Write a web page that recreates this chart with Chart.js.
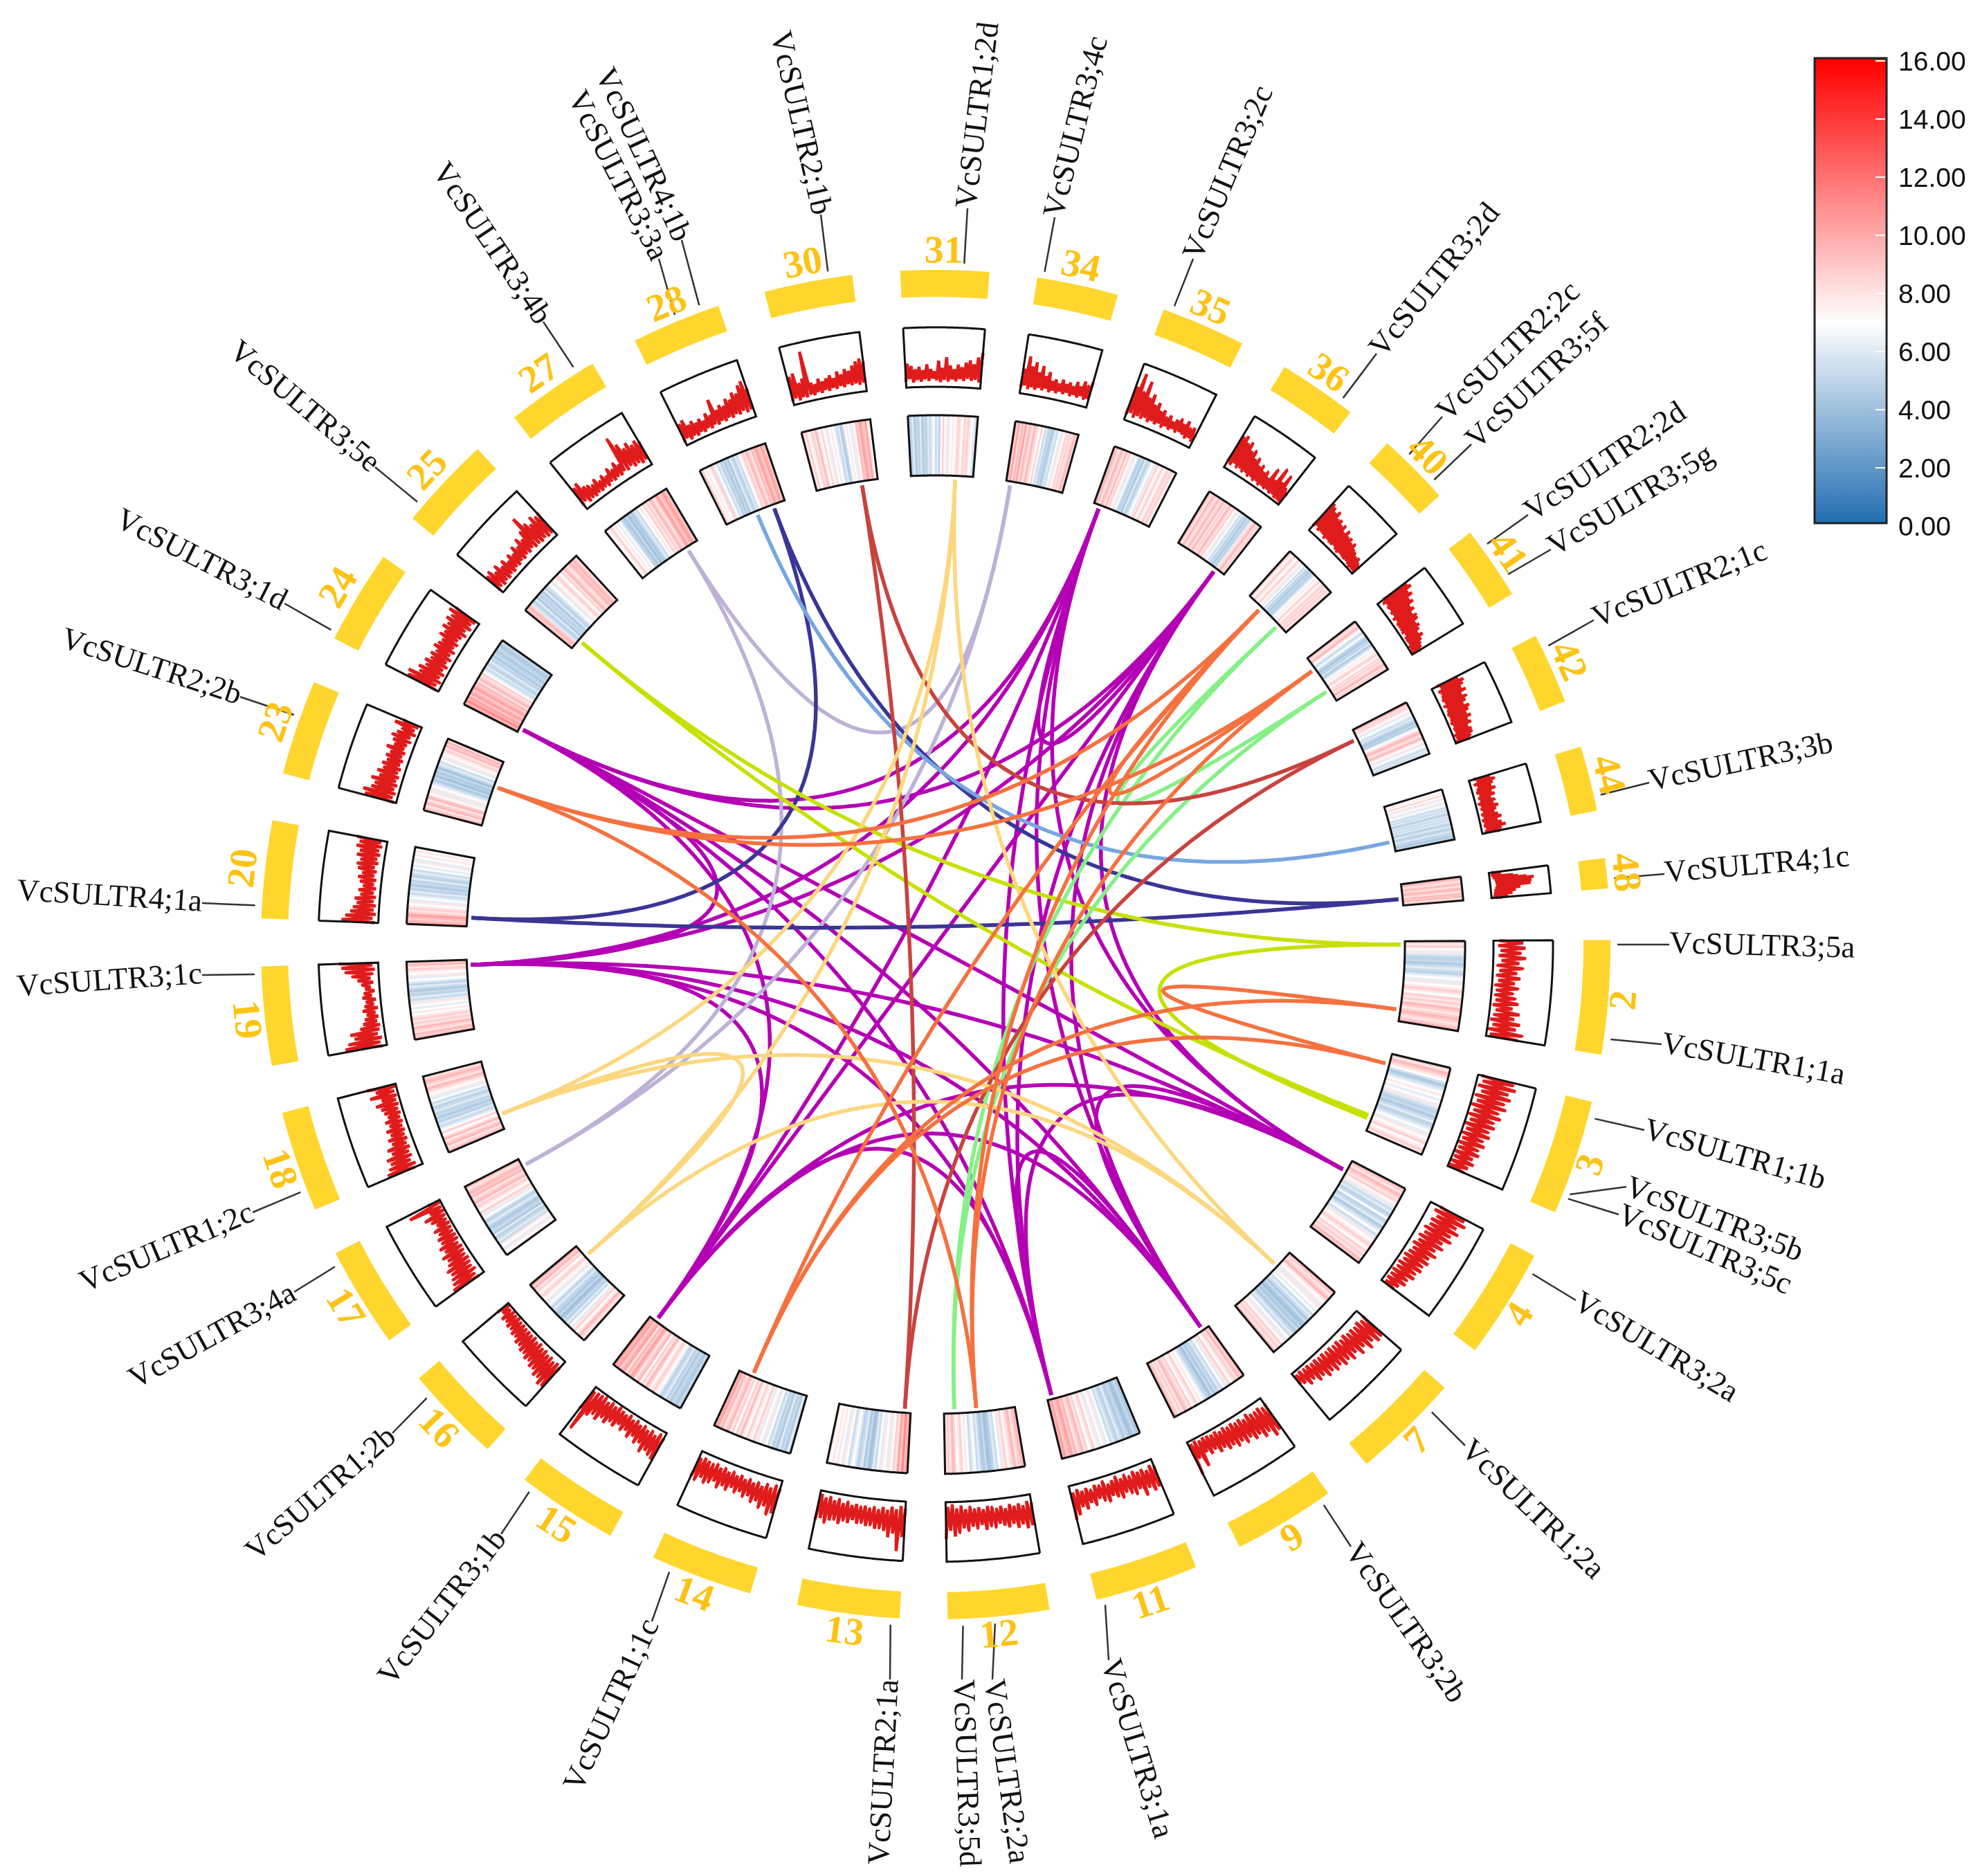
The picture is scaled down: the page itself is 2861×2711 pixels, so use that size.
<!DOCTYPE html>
<html lang="en">
<head>
<meta charset="UTF-8">
<title>VcSULTR collinearity</title>
<style>
    html, body { margin: 0; padding: 0; background: #fff; }
    canvas { display: block; }
</style>
</head>
<body>
<canvas id="myChart" width="2861" height="2711"></canvas>
<script src="https://cdn.jsdelivr.net/npm/chart.js@4/dist/chart.umd.min.js"></script>
<script>
// chromosomes, clockwise, and their length in degrees
var chromosomes = [2,3,4,7,9,11,12,13,14,15,16,17,18,19,20,23,24,25,27,28,30,31,34,35,36,40,41,42,44,48];
var chrLengths = [9.8,9.9,9.5,9.3,8.8,8.9,8.7,8.8,8.8,8.7,8.4,8.7,8.7,8.5,8.4,8.2,8.1,8.1,8.1,7.7,7.6,7.6,7.0,7.3,6.8,6.3,6.3,6.1,5.6,2.6];

// genes and where they sit on the circle (degrees clockwise from north)
var geneNames = ['3;5a','1;1a','1;1b','3;5b','3;5c','3;2a','1;2a','3;2b','3;1a','2;2a','3;5d','2;1a','1;1c','3;1b','1;2b','3;4a','1;2c','3;1c','4;1a','2;2b','3;1d','3;5e','3;4b','3;3a','4;1b','2;1b','1;2d','3;4c','3;2c','3;2d','2;2c','3;5f','2;2d','3;5g','2;1c','3;3b','4;1c'];
var geneAngles = [90,98,104.8,111.5,111.9,118.9,133.3,145.3,165.6,175,177.7,183.8,203,216.6,228.3,241.8,248.7,267.5,273.3,289.7,297.5,310.5,327.9,337.5,339.7,350.9,2.4,9.2,20.5,36.7,44,47,54,57.1,64,77.3,84.4];

// synteny links per family
var magentaLinks = [['3;1a','3;1b'],['3;1a','3;1c'],['3;1a','3;1d'],['3;1a','3;2a'],['3;1a','3;2b'],['3;1a','3;2c'],['3;1a','3;2d'],['3;1b','3;1c'],['3;1b','3;1d'],['3;1b','3;2a'],['3;1b','3;2b'],['3;1b','3;2c'],['3;1b','3;2d'],['3;1c','3;1d'],['3;1c','3;2a'],['3;1c','3;2b'],['3;1c','3;2c'],['3;1c','3;2d'],['3;1d','3;2a'],['3;1d','3;2b'],['3;1d','3;2c'],['3;1d','3;2d'],['3;2a','3;2b'],['3;2a','3;2c'],['3;2a','3;2d'],['3;2b','3;2c'],['3;2b','3;2d'],['3;2c','3;2d']];
var lavenderLinks = [['3;4a','3;4b'],['3;4a','3;4c'],['3;4b','3;4c']];
var navyLinks = [['4;1a','4;1b'],['4;1a','4;1c'],['4;1b','4;1c']];
var blueLinks = [['3;3a','3;3b']];
var limeLinks = [['3;5a','3;5c'],['3;5a','3;5e'],['3;5b','3;5e']];
var greenLinks = [['3;5d','3;5f'],['3;5d','3;5g'],['3;5f','3;5g']];
var brownLinks = [['2;1a','2;1b'],['2;1a','2;1c'],['2;1b','2;1c']];
var sandLinks = [['1;2a','1;2b'],['1;2a','1;2c'],['1;2a','1;2d'],['1;2b','1;2c'],['1;2b','1;2d'],['1;2c','1;2d']];
var orangeLinks = [['1;1a','1;1b'],['1;1a','1;1c'],['1;1b','1;1c'],['2;2a','2;2b'],['2;2a','2;2c'],['2;2a','2;2d'],['2;2b','2;2c'],['2;2b','2;2d'],['2;2c','2;2d'],['1;1c','2;2c']];

// red line track, percent of the track height, one row per chromosome
var lineValues = [
[10,50,8,54,12,47,9,55,14,44,7,50,11,41,6,47,10,38,5,44,9,36,6,41,8,47,4,38,10,51,7,43,3,54,8,48,2,60,6,55],
[6,62,10,68,4,58,12,64,5,55,9,61,3,50,8,57,4,47,7,52,2,44,6,49,3,40,5,46,2,38,4,43,1,35,3,40,1,33,2,30],
[18,66,12,72,20,60,14,68,16,58,11,63,15,52,10,57,13,48,8,54,12,46,9,50,7,43,10,47,6,40,8,44,5,35,7,38,4,30,6,26],
[14,58,18,62,12,54,16,60,13,50,15,56,10,47,14,52,9,45,12,49,8,42,11,46,7,40,10,44,6,36,9,39,5,30,7,34,4,27,6,24],
[12,62,16,68,10,55,14,60,12,50,9,54,13,46,8,50,11,44,7,47,10,42,6,45,9,38,5,42,7,33,5,37,4,30,6,52,3,34,5,60],
[12,48,8,52,14,44,9,55,11,40,7,46,13,42,8,38,12,45,6,41,10,36,14,44,7,39,12,34,9,42,15,37,10,46,13,40,8,52,12,58],
[14,52,10,56,16,48,12,53,15,45,11,50,17,46,12,42,16,47,13,44,10,50,15,41,11,46,14,43,9,49,13,45,7,52,11,58,4,48,8,62],
[12,60,8,84,14,55,10,62,16,52,12,48,18,50,14,44,17,47,13,42,16,45,12,40,15,46,11,43,14,50,9,44,12,47,7,52,10,46,5,50],
[14,58,10,62,16,50,12,55,18,46,14,50,17,42,13,46,16,40,12,44,15,38,11,45,14,41,10,47,13,39,9,44,12,48,10,42,8,50,11,46],
[10,52,7,48,12,44,8,50,11,38,7,42,10,34,6,40,9,32,5,36,8,30,6,38,4,33,7,42,5,36,8,46,4,40,6,48,5,80,7,45],
[14,56,10,60,15,50,11,54,13,45,9,48,11,40,7,44,10,37,6,40,8,33,5,36,7,28,4,31,6,25,3,28,5,22,3,26,4,18,2,24],
[10,58,14,54,8,50,12,46,9,50,6,42,10,38,7,44,5,36,9,40,6,32,4,36,7,28,5,33,3,25,6,30,4,38,2,26,3,60,2,22],
[14,62,10,56,16,50,11,54,13,42,9,47,12,36,8,40,10,33,7,38,9,30,6,35,8,28,5,32,7,35,4,42,6,30,3,48,5,36,2,50],
[8,70,10,62,6,52,12,58,8,40,6,34,10,30,7,26,11,32,6,28,12,25,8,30,14,27,9,24,15,30,10,36,14,44,9,55,6,62,10,66],
[6,62,10,56,5,48,9,44,6,38,10,42,7,33,11,37,8,30,12,36,9,40,13,34,10,42,14,45,9,40,12,47,8,43,11,50,7,46,10,52],
[4,55,8,60,5,48,9,44,6,52,10,40,7,46,11,38,8,42,12,36,9,40,13,35,10,44,14,33,12,38,8,42,11,36,6,30,9,46,5,34],
[4,58,8,62,5,44,9,50,6,40,10,46,7,38,11,43,8,36,12,45,9,40,13,38,10,46,14,42,11,50,8,44,12,52,7,46,10,56,6,48],
[6,36,10,40,5,32,9,38,6,30,10,35,7,28,11,34,8,30,12,38,9,33,13,42,10,36,14,46,9,70,12,50,8,44,11,52,7,46,10,50],
[8,42,12,46,6,34,10,30,7,26,11,32,8,24,12,30,9,26,13,34,10,28,14,36,11,30,15,75,12,60,16,48,11,54,13,46,9,50,12,44],
[6,38,10,42,5,30,9,34,6,28,10,32,7,26,11,36,8,30,12,55,9,34,13,40,10,36,14,46,11,42,15,52,12,48,16,60,11,65,14,50],
[6,48,10,52,5,34,9,40,7,85,10,30,8,26,12,34,9,28,13,32,10,36,14,30,11,40,15,34,12,42,16,38,13,46,15,52,12,56,15,50],
[10,40,14,36,8,30,12,34,9,28,13,38,10,30,14,26,11,44,8,32,12,50,9,36,13,30,10,38,14,34,11,42,15,46,12,40,14,52,10,60],
[10,42,14,64,9,48,13,56,10,40,14,52,11,36,15,44,10,30,14,34,11,28,15,36,12,30,16,34,13,28,15,38,12,32,16,42,13,36,14,44],
[10,60,14,85,10,55,13,76,11,50,15,58,10,42,14,48,11,36,15,40,12,30,15,36,12,28,16,34,13,38,16,32,14,40,12,30,14,34,10,24],
[12,62,8,66,14,56,10,60,12,48,9,52,11,40,8,44,10,34,7,38,9,30,6,34,8,26,6,46,8,30,5,55,7,34,4,50,6,28,3,24],
[10,62,14,58,9,52,12,56,10,46,8,50,11,42,9,46,7,38,10,44,8,36,6,40,9,32,7,36,5,30,8,26,6,22,4,26,5,18,3,16],
[12,60,8,64,12,54,9,58,11,48,8,52,10,42,7,46,9,38,6,42,8,40,7,34,5,38,8,32,6,28,4,34,5,26,3,22,4,20,2,16],
[10,48,14,56,8,50,12,46,9,52,7,42,10,48,6,44,9,38,7,46,5,40,8,36,6,42,4,34,7,38,5,30,6,34,3,32,5,28,2,26],
[8,36,12,42,7,38,11,34,8,40,6,32,10,36,7,28,9,34,5,30,8,37,6,32,9,28,5,33,8,38,4,30,7,36,5,42,8,34,5,30],
[4,14,6,20,3,16,8,40,5,48,10,62,8,74,12,60,9,70,14,55,10,68,12,45,8,50,10,36,6,42,8,30,5,36,6,24,4,28,3,18]
];

// heat map track, expression value 0-16, one row per chromosome
var heatValues = [
[9,8,9,7,8,6,5,4.5,5,4,5,6,5,4.5,6,7,6,8,7,8,9,8,7,9,8,9,8,10,9,8,9,10,9,8,9,10],
[9,8,10,9,8,7,5,4,5,6,7,8,7,6,7,8,6,5,4.5,5,4,5,6,4.5,5,6,7,6,8,7,8,9,7,8,9,8],
[10,9,8,10,9,8,9,7,8,6,5,6,4.5,5,7,4.5,5,6,4,5,6,7,5,6,8,7,8,9,8,7,9,8,9,8,10,9],
[10,9,8,9,10,8,7,8,6,8,7,6,7,5,6,5,4,5,4,3.5,4.5,4,5,4,5,6,5,7,6,8,7,9,8,9,8,10],
[10,9,10,8,9,8,7,9,8,6,7,5,6,4.5,5,4,5,3.5,4.5,5,6,7,8,7,9,8,7,9,8,9,10,8,9,8,9,10],
[4.5,4,5,4,3.5,4.5,5,4,5,6,4.5,5,6,5,7,6,8,7,6,8,7,9,8,7,9,8,10,9,8,10,9,11,10,9,11,10],
[9,10,9,8,10,9,8,7,9,8,6,7,5,6,4.5,4,3.5,5,4,4.5,6,5,7,6,5,7,8,7,9,8,7,9,10,8,9,8],
[11,10,12,9,11,8,9,7,8,6,7,8,6,7,5,6,4,3.5,5,4,6,5,4.5,6,7,6,5,7,8,6,7,8,7,8,7,8],
[5,6,4,5,4.5,6,4,5,4.5,6,5,7,6,8,7,6,8,9,7,8,9,7,8,10,8,9,7,9,8,10,9,8,10,9,11,10],
[4.5,5,4,4.5,5,4,5,4.5,6,5,4.5,6,7,8,9,8,7,9,10,8,9,7,10,9,8,10,11,9,10,8,11,10,9,11,10,11],
[9,8,9,10,8,7,9,8,6,7,5,6,4.5,5,4,3.5,5,4,4.5,5,6,4.5,6,7,6,8,7,8,9,8,7,9,8,10,9,10],
[8,7,8,6,7,8,5,6,5,4.5,6,4,5,4.5,4,5,6,4.5,5,7,6,8,9,7,8,9,8,10,9,8,10,9,10,9,8,10],
[10,9,8,10,9,8,10,8,7,9,7,6,5,6,4.5,5,4,5,4.5,6,5,4.5,6,5,7,6,8,7,8,9,10,8,9,10,9,8],
[10,9,10,8,9,10,8,9,8,9,8,7,8,7,6,7,8,6,5,6,4.5,5,4,5,6,4.5,6,7,6,8,7,8,9,8,10,9],
[11,10,9,10,11,9,8,9,8,7,8,6,7,6,5,6,4.5,5,4,5,4.5,6,4.5,5,6,5,7,6,7,8,6,7,8,7,8,7],
[10,9,8,10,9,8,10,9,7,8,6,8,7,6,5,4,5,3.5,4.5,4,5,3.5,5,6,5,7,6,8,7,8,9,8,10,9,10,8],
[11,10,12,10,11,9,11,10,9,11,10,9,10,8,10,9,8,9,7,6,5,6,4.5,5,6,4.5,5,4,5,4.5,4,5,4.5,4,4.5,5],
[10,9,10,9,6,5,4.5,6,4,5,4.5,5,4,6,4.5,5,6,7,6,8,7,8,9,8,7,9,8,10,9,8,9,10,9,10,9,8],
[8,7,8,9,7,8,7,6,7,5,4.5,4,5,3.5,4.5,4,5,6,5,7,8,7,9,8,9,8,10,9,8,10,11,9,10,11,10,9],
[8,9,7,8,7,8,9,6,7,5,6,4.5,5,4,5,4,6,5,4.5,6,5,7,8,9,8,10,9,8,10,9,11,10,9,11,10,9],
[9,8,9,7,8,9,8,10,8,7,9,7,8,6,7,8,7,6,5,6,4,5,7,8,7,6,8,7,10,9,11,10,9,11,8,7],
[5,4.5,6,4,5,4.5,6,4,5,4.5,6,5,6,7,5,6,4.5,7,9,7,8,6,7,8,7,8,9,8,7,9,8,9,8,7,6,5],
[10,9,11,8,10,9,11,8,10,9,8,10,9,8,7,9,7,5,6,4.5,5,4,5,6,5,7,6,8,7,9,8,9,8,9,10,8],
[8,10,9,8,10,9,8,10,8,9,7,8,6,7,5,4.5,5,4,6,4.5,5,6,7,6,8,9,7,8,9,7,8,9,8,9,8,7],
[10,9,8,10,9,8,9,10,8,9,10,8,9,8,10,9,8,9,7,8,6,7,5,6,4.5,5,4,5,4.5,6,8,9,10,8,9,8],
[8,9,7,8,9,8,7,8,9,7,8,6,7,5,6,4.5,5,4,5,4.5,5,6,7,8,7,8,9,7,8,9,8,9,8,9,8,9],
[10,9,8,9,10,8,7,6,5,6,7,5,4.5,4,5,4.5,6,4,5,6,7,8,7,8,9,8,7,9,8,9,8,9,10,8,9,8],
[9,10,8,9,8,7,8,6,7,6,5,6,5,4.5,4,5,4,6,7,8,9,10,9,8,9,10,8,7,8,6,7,6,5,6,5,7],
[8,7,8,7,9,7,8,6,7,8,6,7,6,5,6,5,6,5,4.5,6,5,6,5,6,5,4.5,6,5,4.5,5,6,4.5,5,4,4.5,5],
[9,10,9,8,9,10,8,9,10,9,8,10,9,10,8,9]
];

var legendTicks = [0,2,4,6,8,10,12,14,16];

// layout, in reference pixels
var cx = 1352, cy = 1365;
var firstStart = 89.6, chrGap = 4.08;
var yellowR = [936, 975], lineR = [806, 892], heatR = [678, 765], linkR = 672, tickR = 985, numberR = 1002;
var legendBox = {left: 2622, right: 2726, top: 84, bottom: 756, zero: 760, perUnit: 42};

// where each gene label is hung: x, y, rotation, align (same order as geneNames)
var labelPlaces = [
[2412,1365,1.5,'left'],[2401,1509,10,'left'],[2376,1633,16,'left'],[2350,1715,21,'left'],[2339,1755,23,'left'],[2277,1879,31,'left'],[2117,2089,44,'left'],[1952,2235,55,'left'],[1602,2399,73,'left'],[1434,2427,82,'left'],[1390,2427,88,'left'],
[1286,2427,-87,'right'],[942,2343,-65,'right'],[724,2217,-52,'right'],[567,2071,-41,'right'],[425,1867,-29,'right'],[365,1752,-23,'right'],[292,1409,-4,'right'],[292,1305,3.5,'right'],[347,1007,18,'right'],[411,872,27,'right'],[542,675,40,'right'],[785,465,56,'right'],[952,374,63,'right'],[985,347,65,'right'],[1186,310,77,'right'],
[1398,301,-83,'left'],[1524,314,-76,'left'],[1724,374,-67,'left'],[1989,511,-51,'left'],[2084,602,-44,'left'],[2126,642,-43,'left'],[2208,744,-34,'left'],[2241,794,-31,'left'],[2303,896,-22,'left'],[2383,1131,-12,'left'],[2405,1263,-5,'left']
];

var linkFamilies = [
    {links: magentaLinks, color: '#B400B4'},
    {links: lavenderLinks, color: '#BDB2D6'},
    {links: navyLinks, color: '#3A3596'},
    {links: blueLinks, color: '#78A6E2'},
    {links: limeLinks, color: '#C6E000'},
    {links: greenLinks, color: '#86F086'},
    {links: brownLinks, color: '#C8433F'},
    {links: sandLinks, color: '#FCD77F'},
    {links: orangeLinks, color: '#F5713F'}
];

function polar(angle, r) {
    var a = angle * Math.PI / 180;
    return {x: cx + r * Math.sin(a), y: cy - r * Math.cos(a)};
}

function arc(a0, a1, r) {
    var pts = [];
    for (var i = 0; i <= 24; i++) {
        pts.push(polar(a0 + (a1 - a0) * i / 24, r));
    }
    return pts;
}

function heatRgb(v) {
    var r, g, b, t;
    if (v <= 7) {
        t = v / 7;
        r = 31 + (255 - 31) * t; g = 108 + (255 - 108) * t; b = 176 + (255 - 176) * t;
    } else {
        t = (v - 7) / 9;
        r = 255; g = 255 * (1 - t); b = 255 * (1 - t);
    }
    return Math.round(r) + ',' + Math.round(g) + ',' + Math.round(b);
}

var chrStart = [];
var pos = firstStart;
for (var i = 0; i < chromosomes.length; i++) {
    chrStart.push(pos);
    pos += chrLengths[i] + chrGap;
}

var datasets = [];
function addLine(data, color, width, join) {
    datasets.push({
        data: data,
        showLine: true,
        pointRadius: 0,
        fill: false,
        tension: 0.0001,   // tension 0 takes chart.js's fast path, which collapses near-vertical runs
        borderColor: color,
        borderWidth: width,
        borderCapStyle: 'butt',
        borderJoinStyle: join || 'round'
    });
}

// links first so the tracks sit on top
linkFamilies.forEach(function (family) {
    family.links.forEach(function (pair) {
        var p0 = polar(geneAngles[geneNames.indexOf(pair[0])], linkR);
        var p1 = polar(geneAngles[geneNames.indexOf(pair[1])], linkR);
        var pts = [];
        for (var k = 0; k <= 60; k++) {
            var t = k / 60;
            pts.push({
                x: (1 - t) * (1 - t) * p0.x + 2 * t * (1 - t) * cx + t * t * p1.x,
                y: (1 - t) * (1 - t) * p0.y + 2 * t * (1 - t) * cy + t * t * p1.y
            });
        }
        addLine(pts, family.color, 5.5);
    });
});

chromosomes.forEach(function (chr, c) {
    var a0 = chrStart[c], a1 = a0 + chrLengths[c];

    addLine(arc(a0, a1, (yellowR[0] + yellowR[1]) / 2), '#FFD62E', yellowR[1] - yellowR[0]);

    // heat cells
    var cells = heatValues[c];
    var rMid = (heatR[0] + heatR[1]) / 2;
    var cellWidth = rMid * (a1 - a0) * Math.PI / 180 / cells.length + 1.2;
    cells.forEach(function (v, j) {
        var a = a0 + (a1 - a0) * (j + 0.5) / cells.length;
        addLine([polar(a, heatR[0]), polar(a, heatR[1])], 'rgba(' + heatRgb(v) + ',0.8)', cellWidth);
    });
    addLine(arc(a0, a1, heatR[1]).concat(arc(a1, a0, heatR[0]), [polar(a0, heatR[1])]), '#111', 3, 'miter');

    // red line track
    var vals = lineValues[c];
    var trace = vals.map(function (v, j) {
        var a = a0 + (a1 - a0) * j / (vals.length - 1);
        return polar(a, lineR[0] + (lineR[1] - lineR[0]) * v / 100);
    });
    addLine(trace, '#E01B1B', 4.5, 'bevel');
    addLine(arc(a0, a1, lineR[1]).concat(arc(a1, a0, lineR[0]), [polar(a0, lineR[1])]), '#111', 3, 'miter');
});

// gene ticks
geneNames.forEach(function (g, i) {
    var p = labelPlaces[i];
    addLine([polar(geneAngles[i], tickR), {x: p[0], y: p[1]}], '#333', 2.5);
});

// the plugin draws what the scales can't: gene names, chromosome numbers, color bar
var circosText = {
    id: 'circosText',
    afterDatasetsDraw: function (chart) {
        var ctx = chart.ctx, sx = chart.scales.x, sy = chart.scales.y;
        var X = function (v) { return sx.getPixelForValue(v); };
        var Y = function (v) { return sy.getPixelForValue(v); };
        ctx.save();

        // chromosome numbers
        ctx.fillStyle = '#FDC213';
        ctx.font = 'bold 56px "Liberation Serif"';
        ctx.textAlign = 'center';
        ctx.textBaseline = 'middle';
        chromosomes.forEach(function (chr, c) {
            var mid = chrStart[c] + chrLengths[c] / 2;
            var p = polar(mid, numberR);
            var rot = (mid > 90 && mid < 270) ? mid - 180 : mid;
            ctx.save();
            ctx.translate(X(p.x - 2), Y(p.y + 2));
            ctx.rotate(rot * Math.PI / 180);
            ctx.fillText(String(chr), 0, 0);
            ctx.restore();
        });

        // gene labels
        ctx.fillStyle = '#111';
        ctx.font = '45px "Liberation Serif"';
        geneNames.forEach(function (g, i) {
            var p = labelPlaces[i];
            ctx.save();
            ctx.translate(X(p[0]), Y(p[1]));
            ctx.rotate(p[2] * Math.PI / 180);
            ctx.textAlign = p[3];
            ctx.fillText('VcSULTR' + g, 0, 0);
            ctx.restore();
        });

        // color bar
        var b = legendBox;
        var grad = ctx.createLinearGradient(0, Y(b.zero), 0, Y(b.zero - 16 * b.perUnit));
        grad.addColorStop(0, 'rgb(' + heatRgb(0) + ')');
        grad.addColorStop(7 / 16, 'rgb(' + heatRgb(7) + ')');
        grad.addColorStop(1, 'rgb(' + heatRgb(16) + ')');
        ctx.fillStyle = grad;
        ctx.fillRect(X(b.left), Y(b.top), b.right - b.left, b.bottom - b.top);
        ctx.strokeStyle = '#222';
        ctx.lineWidth = 3;
        ctx.strokeRect(X(b.left), Y(b.top), b.right - b.left, b.bottom - b.top);
        ctx.font = '39px "Liberation Sans"';
        ctx.textAlign = 'left';
        legendTicks.forEach(function (v) {
            var y = Y(b.zero - v * b.perUnit);
            if (v > 0) {
                ctx.strokeStyle = '#fff';
                ctx.lineWidth = 2;
                ctx.beginPath();
                ctx.moveTo(X(b.right - 16), y);
                ctx.lineTo(X(b.right - 2), y);
                ctx.stroke();
            }
            ctx.fillStyle = '#111';
            ctx.fillText(v.toFixed(2), X(b.right + 17), y + 3);
        });
        ctx.restore();
    }
};

new Chart(document.getElementById('myChart').getContext('2d'), {
    type: 'scatter',
    data: {datasets: datasets.reverse()},   // chart.js paints the first dataset last
    options: {
        responsive: false,
        animation: false,
        devicePixelRatio: 1,
        events: [],
        layout: {padding: 0},
        plugins: {legend: {display: false}, tooltip: {enabled: false}},
        scales: {
            x: {type: 'linear', min: 0, max: 2861, display: false},
            y: {type: 'linear', min: 0, max: 2711, reverse: true, display: false}
        }
    },
    plugins: [circosText]
});
</script>
</body>
</html>
